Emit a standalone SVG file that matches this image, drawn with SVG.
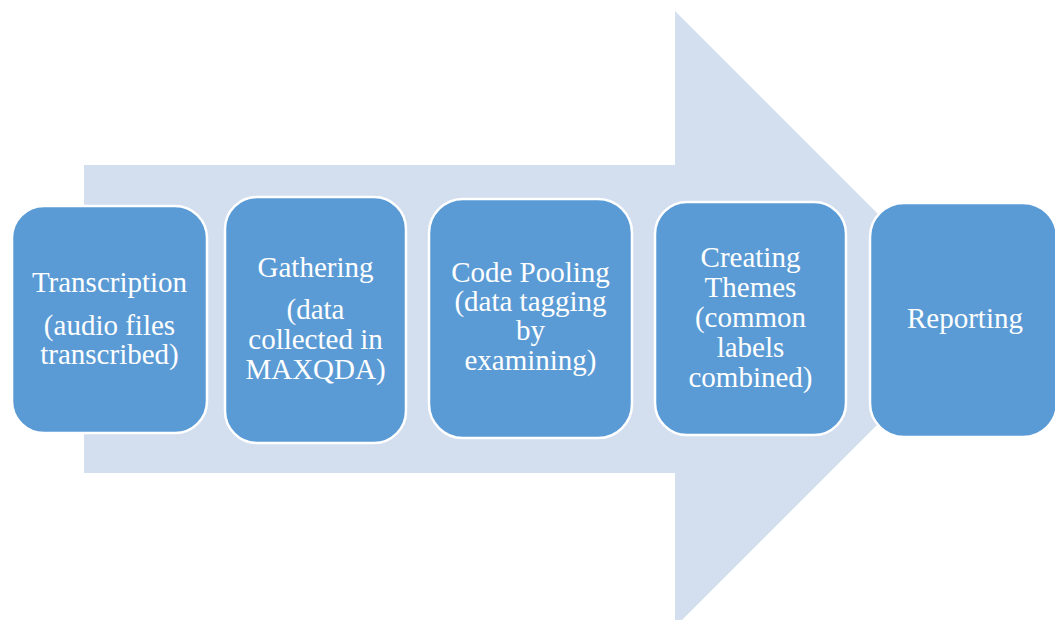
<svg xmlns="http://www.w3.org/2000/svg" width="1055" height="620" viewBox="0 0 1055 620">
<style>
.box{fill:#5B9BD5;stroke:#FFFFFF;stroke-width:2.5}
.lbl{font-family:"Liberation Serif","Times New Roman",serif;font-size:29px;fill:#FFFFFF;text-anchor:middle}
</style>
<rect width="1055" height="620" fill="#FFFFFF"/>
<g id="connectors">
<polygon points="84,165 675,165 675,11 983,319 675,627 675,473 84,473" fill="#D3DEEF"/>
</g>
<g id="n1">
<rect class="box" x="12" y="206" width="195" height="227" rx="32"/>
<text class="lbl" x="109.5" y="292">Transcription</text>
<text class="lbl" x="109.5" y="335">(audio files</text>
<text class="lbl" x="109.5" y="364">transcribed)</text>
</g>
<g id="n2">
<rect class="box" x="225" y="197" width="181" height="246" rx="32"/>
<text class="lbl" x="315.5" y="277">Gathering</text>
<text class="lbl" x="315.5" y="319">(data</text>
<text class="lbl" x="315.5" y="349">collected in</text>
<text class="lbl" x="315.5" y="379">MAXQDA)</text>
</g>
<g id="n3">
<rect class="box" x="429" y="199" width="203" height="239" rx="34"/>
<text class="lbl" x="530.5" y="282">Code Pooling</text>
<text class="lbl" x="530.5" y="311">(data tagging</text>
<text class="lbl" x="530.5" y="340">by</text>
<text class="lbl" x="530.5" y="370">examining)</text>
</g>
<g id="n4">
<rect class="box" x="655" y="202" width="191" height="233" rx="32"/>
<text class="lbl" x="750.5" y="267">Creating</text>
<text class="lbl" x="750.5" y="297">Themes</text>
<text class="lbl" x="750.5" y="327">(common</text>
<text class="lbl" x="750.5" y="357">labels</text>
<text class="lbl" x="750.5" y="387">combined)</text>
</g>
<g id="n5">
<rect class="box" x="870" y="203" width="187" height="234" rx="34"/>
<text class="lbl" x="965" y="328">Reporting</text>
</g>
</svg>
